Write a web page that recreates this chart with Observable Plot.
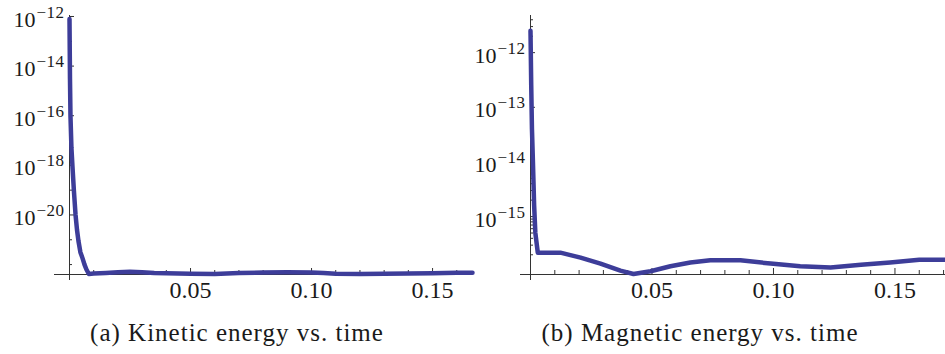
<!DOCTYPE html>
<html><head><meta charset="utf-8">
<script src="https://cdn.jsdelivr.net/npm/d3@7"></script>
<script src="https://cdn.jsdelivr.net/npm/@observablehq/plot@0.6"></script>
<style>
body{margin:0;background:#fff;}
#wrap{position:relative;width:945px;height:354px;overflow:hidden;background:#fff;}
.panel{position:absolute;top:0;}
.cap{position:absolute;top:320px;font-family:"Liberation Serif",serif;font-size:25px;line-height:25px;letter-spacing:1px;color:#1a1a1a;white-space:nowrap;transform:translateX(-50%);}
</style></head><body>
<div id="wrap">
 <div id="pa" class="panel" style="left:0px"></div>
 <div id="pb" class="panel" style="left:460px"></div>
 <div class="cap" style="left:237px">(a) Kinetic energy vs. time</div>
 <div class="cap" style="left:700px">(b) Magnetic energy vs. time</div>
</div>
<script>
// (a) Kinetic energy: time and log10(energy)
const kineticTime  = [0, 0.0002, 0.0004, 0.0008, 0.0012, 0.0018, 0.0025, 0.0031, 0.0037, 0.0045, 0.0054, 0.0062, 0.007, 0.008, 0.01, 0.015, 0.02, 0.025, 0.03, 0.035, 0.04, 0.05, 0.06, 0.065, 0.07, 0.08, 0.09, 0.1, 0.105, 0.11, 0.12, 0.13, 0.14, 0.15, 0.16, 0.1665];
const kineticLog10 = [-12.1, -14.5, -16, -17.3, -18, -19, -20, -20.6, -21.05, -21.5, -21.75, -22.0, -22.2, -22.38, -22.36, -22.34, -22.31, -22.29, -22.31, -22.34, -22.35, -22.37, -22.38, -22.36, -22.34, -22.32, -22.31, -22.32, -22.34, -22.37, -22.38, -22.37, -22.36, -22.35, -22.33, -22.33];
// (b) Magnetic energy: time and log10(energy)
const magneticTime  = [0, 0.0003, 0.0006, 0.001, 0.0015, 0.002, 0.003, 0.0123, 0.0206, 0.0288, 0.037, 0.0424, 0.0494, 0.0576, 0.0658, 0.074, 0.0864, 0.0988, 0.111, 0.1235, 0.136, 0.148, 0.16, 0.1708];
const magneticLog10 = [-11.6, -12.6, -13.4, -14.0, -14.8, -15.3, -15.66, -15.66, -15.75, -15.86, -15.99, -16.05, -16.0, -15.91, -15.84, -15.80, -15.80, -15.86, -15.91, -15.93, -15.88, -15.84, -15.79, -15.79];

// tick values
const xMajorTicks = [0.05, 0.10, 0.15];
const xMinorTicks = [0.01, 0.02, 0.03, 0.04, 0.06, 0.07, 0.08, 0.09, 0.11, 0.12, 0.13, 0.14, 0.16, 0.17];
const kineticYLabeled = [1e-12, 1e-14, 1e-16, 1e-18, 1e-20];
const kineticYMinor = [1e-13, 1e-15, 1e-17, 1e-19, 1e-21, 1e-22];
const magneticYLabeled = [1e-12, 1e-13, 1e-14, 1e-15];
const minorMultipliers = [2, 3, 4, 5, 6, 7, 8, 9];
const magneticMinorDecades = [1e-16, 1e-15, 1e-14, 1e-13, 1e-12];
const magneticYMinor = magneticMinorDecades.flatMap(d => minorMultipliers.map(m => m * d)).filter(v => v < 4.7e-12);

const lineColor = "#3d3d99";
const axisColor = "#333";

function panel({time, log10E, xMax, yLogMin, yLogMax, yLabeled, yMinor, width, marginLeft, marginRight, axisExt}) {
  const data = time.map((t, i) => ({t, e: Math.pow(10, log10E[i])}));
  const yMin = Math.pow(10, yLogMin);
  const svg = Plot.plot({
    width, height: 310, marginTop: 15, marginBottom: 36, marginLeft, marginRight,
    style: {fontFamily: '"Liberation Serif", serif', fontSize: "21px", color: "#1a1a1a", background: "transparent", overflow: "visible"},
    x: {domain: [0, xMax], axis: null, label: null},
    y: {type: "log", domain: [yMin, Math.pow(10, yLogMax)], axis: null, label: null},
    marks: [
      Plot.ruleY([yMin], {stroke: axisColor, strokeWidth: 1, insetLeft: -axisExt}),
      Plot.ruleX([0], {stroke: axisColor, strokeWidth: 1, insetBottom: -6}),
      Plot.axisX(xMinorTicks.filter(v => v <= xMax), {tickSize: 4, tickPadding: 0, tickFormat: () => "", stroke: axisColor, label: null}),
      Plot.axisX(xMajorTicks, {tickSize: 6, tickPadding: 0, tickFormat: d3.format(".2f"), stroke: axisColor, label: null}),
      Plot.axisY(yMinor, {tickSize: 3, tickPadding: 0, tickFormat: () => "", stroke: axisColor, label: null}),
      Plot.axisY(yLabeled, {tickSize: 5, tickPadding: 0, tickFormat: d => "10^" + Math.round(Math.log10(d)), stroke: axisColor, label: null}),
      Plot.line(data, {x: "t", y: "e", stroke: lineColor, strokeWidth: 4.5, strokeLinejoin: "round"})
    ]
  });
  // point ticks inward (Mathematica style)
  svg.querySelectorAll('g[aria-label="x-axis tick"] path').forEach(p => {
    p.setAttribute("transform", (p.getAttribute("transform") || "") + " scale(1,-1)");
  });
  svg.querySelectorAll('g[aria-label="y-axis tick"] path').forEach(p => {
    p.setAttribute("transform", (p.getAttribute("transform") || "") + " scale(-1,1)");
  });
  // tick label sizes and superscripts
  svg.querySelectorAll("text").forEach(el => {
    const s = el.textContent;
    if (s.startsWith("0.")) { el.style.fontSize = "24px"; return; }
    if (!s.startsWith("10^")) return;
    const exp = s.slice(3).replace("-", "\u2212");
    el.textContent = "";
    el.style.fontSize = "22px";
    const sel = d3.select(el);
    sel.append("tspan").attr("dy", "3").text("10");
    sel.append("tspan").attr("dy", "-9").attr("dx", "1").style("font-size", "17px").style("letter-spacing", "0.5px").text(exp);
  });
  return svg;
}

document.getElementById("pa").appendChild(panel({
  time: kineticTime, log10E: kineticLog10, xMax: 0.1665, yLogMin: -22.40, yLogMax: -11.96,
  yLabeled: kineticYLabeled, yMinor: kineticYMinor, width: 473, marginLeft: 69, marginRight: 1, axisExt: 15
}));
document.getElementById("pb").appendChild(panel({
  time: magneticTime, log10E: magneticLog10, xMax: 0.1708, yLogMin: -16.06, yLogMax: -11.32,
  yLabeled: magneticYLabeled, yMinor: magneticYMinor, width: 485, marginLeft: 70, marginRight: 0, axisExt: 10
}));
</script>
</body></html>
